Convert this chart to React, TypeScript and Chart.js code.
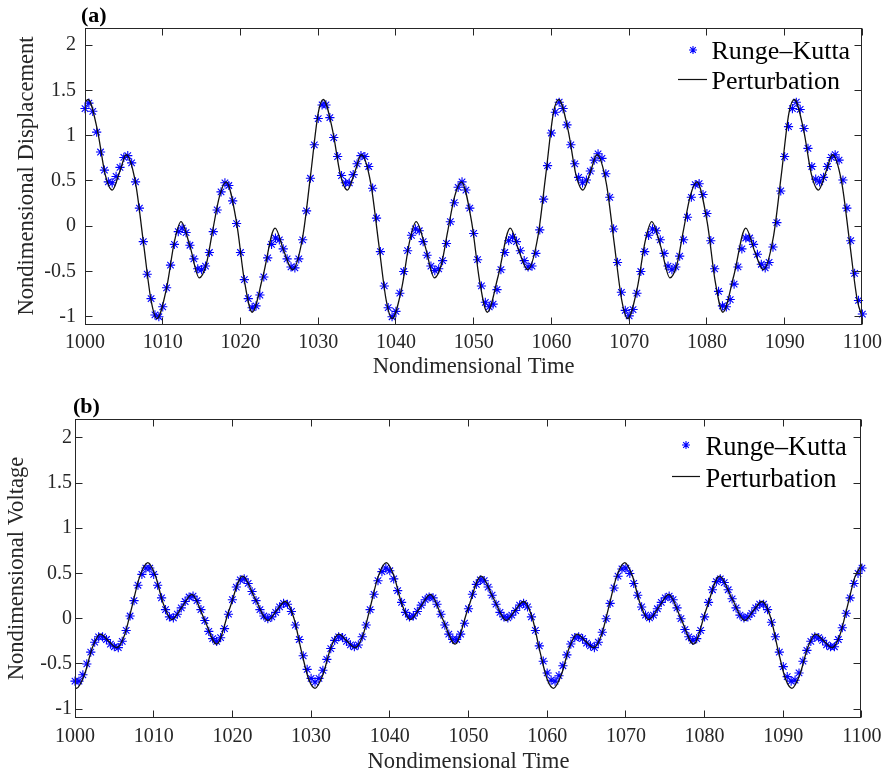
import React, { useEffect, useRef } from "react";
import { Chart, registerables } from "chart.js";

Chart.register(...registerables);

const FONT = '"Liberation Serif", "Times New Roman", serif';
const AXIS_COLOR = "#262626";
const RK_COLOR = "#0000ff";
const LINE_COLOR = "#111111";
const TICK_LEN = 7;

const SERIES_NAMES = ["Runge–Kutta", "Perturbation"];
const X_TITLE = "Nondimensional Time";
const X_TICKS = [1000, 1010, 1020, 1030, 1040, 1050, 1060, 1070, 1080, 1090, 1100];
const Y_TICKS = [-1, -0.5, 0, 0.5, 1, 1.5, 2];

// Runge–Kutta sample times
const TIME = [
  1000, 1000.5, 1001, 1001.5, 1002, 1002.5, 1003, 1003.5, 1004, 1004.5,
  1005, 1005.5, 1006, 1006.5, 1007, 1007.5, 1008, 1008.5, 1009, 1009.5,
  1010, 1010.5, 1011, 1011.5, 1012, 1012.5, 1013, 1013.5, 1014, 1014.5,
  1015, 1015.5, 1016, 1016.5, 1017, 1017.5, 1018, 1018.5, 1019, 1019.5,
  1020, 1020.5, 1021, 1021.5, 1022, 1022.5, 1023, 1023.5, 1024, 1024.5,
  1025, 1025.5, 1026, 1026.5, 1027, 1027.5, 1028, 1028.5, 1029, 1029.5,
  1030, 1030.5, 1031, 1031.5, 1032, 1032.5, 1033, 1033.5, 1034, 1034.5,
  1035, 1035.5, 1036, 1036.5, 1037, 1037.5, 1038, 1038.5, 1039, 1039.5,
  1040, 1040.5, 1041, 1041.5, 1042, 1042.5, 1043, 1043.5, 1044, 1044.5,
  1045, 1045.5, 1046, 1046.5, 1047, 1047.5, 1048, 1048.5, 1049, 1049.5,
  1050, 1050.5, 1051, 1051.5, 1052, 1052.5, 1053, 1053.5, 1054, 1054.5,
  1055, 1055.5, 1056, 1056.5, 1057, 1057.5, 1058, 1058.5, 1059, 1059.5,
  1060, 1060.5, 1061, 1061.5, 1062, 1062.5, 1063, 1063.5, 1064, 1064.5,
  1065, 1065.5, 1066, 1066.5, 1067, 1067.5, 1068, 1068.5, 1069, 1069.5,
  1070, 1070.5, 1071, 1071.5, 1072, 1072.5, 1073, 1073.5, 1074, 1074.5,
  1075, 1075.5, 1076, 1076.5, 1077, 1077.5, 1078, 1078.5, 1079, 1079.5,
  1080, 1080.5, 1081, 1081.5, 1082, 1082.5, 1083, 1083.5, 1084, 1084.5,
  1085, 1085.5, 1086, 1086.5, 1087, 1087.5, 1088, 1088.5, 1089, 1089.5,
  1090, 1090.5, 1091, 1091.5, 1092, 1092.5, 1093, 1093.5, 1094, 1094.5,
  1095, 1095.5, 1096, 1096.5, 1097, 1097.5, 1098, 1098.5, 1099, 1099.5,
  1100,
];

// (a) Runge–Kutta displacement
const DISP_RK = [
  1.30, 1.36, 1.27, 1.04, 0.82, 0.62, 0.49, 0.48, 0.55, 0.65,
  0.76, 0.78, 0.70, 0.49, 0.20, -0.17, -0.53, -0.80, -0.98, -1.00,
  -0.89, -0.68, -0.43, -0.20, -0.06, -0.02, -0.07, -0.21, -0.36, -0.47,
  -0.48, -0.44, -0.29, -0.06, 0.18, 0.38, 0.48, 0.45, 0.28, 0.03,
  -0.29, -0.59, -0.80, -0.90, -0.88, -0.76, -0.56, -0.35, -0.20, -0.13,
  -0.15, -0.25, -0.36, -0.45, -0.46, -0.36, -0.15, 0.17, 0.53, 0.90,
  1.19, 1.34, 1.34, 1.20, 0.98, 0.77, 0.56, 0.48, 0.48, 0.57,
  0.69, 0.78, 0.77, 0.66, 0.42, 0.09, -0.28, -0.66, -0.90, -1.00,
  -0.94, -0.74, -0.50, -0.27, -0.10, -0.03, -0.05, -0.17, -0.32, -0.44,
  -0.49, -0.47, -0.38, -0.19, 0.05, 0.26, 0.43, 0.49, 0.40, 0.20,
  -0.08, -0.37, -0.66, -0.84, -0.89, -0.86, -0.70, -0.48, -0.29, -0.16,
  -0.12, -0.17, -0.27, -0.38, -0.45, -0.44, -0.30, -0.04, 0.30, 0.67,
  1.03, 1.26, 1.37, 1.30, 1.12, 0.90, 0.69, 0.54, 0.48, 0.51,
  0.61, 0.73, 0.80, 0.75, 0.58, 0.32, -0.03, -0.40, -0.73, -0.93,
  -0.99, -0.92, -0.74, -0.50, -0.28, -0.10, -0.03, -0.05, -0.15, -0.30,
  -0.44, -0.48, -0.45, -0.33, -0.15, 0.10, 0.32, 0.46, 0.47, 0.35,
  0.14, -0.16, -0.47, -0.72, -0.88, -0.89, -0.81, -0.64, -0.45, -0.25,
  -0.13, -0.13, -0.20, -0.31, -0.42, -0.46, -0.40, -0.23, 0.04, 0.39,
  0.77, 1.10, 1.30, 1.37, 1.29, 1.08, 0.86, 0.66, 0.52, 0.49,
  0.54, 0.66, 0.76, 0.79, 0.73, 0.51, 0.20, -0.16, -0.52, -0.82,
  -0.97,
];

// (b) Runge–Kutta voltage
const VOLT_RK = [
  -0.69, -0.69, -0.62, -0.50, -0.37, -0.26, -0.20, -0.20, -0.23, -0.28,
  -0.31, -0.32, -0.25, -0.13, 0.03, 0.20, 0.37, 0.49, 0.56, 0.56,
  0.49, 0.37, 0.23, 0.10, 0.02, 0.01, 0.05, 0.12, 0.19, 0.24,
  0.25, 0.20, 0.10, -0.02, -0.14, -0.22, -0.25, -0.21, -0.11, 0.05,
  0.21, 0.35, 0.43, 0.44, 0.39, 0.30, 0.20, 0.10, 0.03, 0.00,
  0.02, 0.07, 0.13, 0.17, 0.16, 0.08, -0.07, -0.23, -0.41, -0.56,
  -0.66, -0.70, -0.66, -0.57, -0.45, -0.33, -0.24, -0.20, -0.21, -0.25,
  -0.29, -0.31, -0.29, -0.20, -0.07, 0.10, 0.27, 0.42, 0.52, 0.56,
  0.53, 0.44, 0.31, 0.18, 0.07, 0.02, 0.03, 0.08, 0.15, 0.21,
  0.24, 0.23, 0.16, 0.05, -0.07, -0.17, -0.23, -0.23, -0.17, -0.05,
  0.11, 0.27, 0.38, 0.43, 0.42, 0.35, 0.26, 0.16, 0.07, 0.02,
  0.01, 0.04, 0.09, 0.15, 0.17, 0.13, 0.02, -0.13, -0.30, -0.47,
  -0.60, -0.68, -0.69, -0.63, -0.52, -0.40, -0.28, -0.21, -0.20, -0.22,
  -0.27, -0.30, -0.32, -0.26, -0.15, 0.00, 0.17, 0.34, 0.47, 0.55,
  0.56, 0.50, 0.39, 0.26, 0.13, 0.04, 0.01, 0.04, 0.11, 0.18,
  0.23, 0.25, 0.21, 0.12, 0.00, -0.12, -0.20, -0.24, -0.22, -0.13,
  0.02, 0.18, 0.32, 0.41, 0.44, 0.40, 0.32, 0.22, 0.12, 0.04,
  0.01, 0.02, 0.06, 0.12, 0.16, 0.16, 0.10, -0.04, -0.20, -0.37,
  -0.53, -0.64, -0.69, -0.68, -0.60, -0.47, -0.35, -0.25, -0.20, -0.21,
  -0.24, -0.29, -0.31, -0.31, -0.23, -0.10, 0.06, 0.23, 0.39, 0.50,
  0.56,
];

// (a) Perturbation curve (times and values read at extrema / slopes)
const DISP_PT_T = [
  1000, 1000.4, 1001.6, 1002.6, 1003.5, 1004.5, 1005.3, 1006.5, 1007.5, 1008.5,
  1009.25, 1010.5, 1011.5, 1012.35, 1013.5, 1014.7, 1015.6, 1016.4, 1017.3, 1018.15,
  1019.5, 1020.5, 1021.5, 1022.9, 1024.45, 1025.6, 1026.7, 1028.0, 1029.0, 1030.0,
  1030.65, 1031.85, 1032.85, 1033.75, 1034.75, 1035.55, 1036.75, 1037.75, 1038.75, 1039.5,
  1040.75, 1041.75, 1042.6, 1043.75, 1044.95, 1045.85, 1046.65, 1047.55, 1048.4, 1049.75,
  1050.75, 1051.75, 1053.15, 1054.7, 1055.85, 1056.95, 1058.25, 1059.25, 1060.25, 1060.95,
  1062.15, 1063.15, 1064.05, 1065.05, 1065.85, 1067.05, 1068.05, 1069.05, 1069.8, 1071.05,
  1072.05, 1072.9, 1074.05, 1075.25, 1076.15, 1076.95, 1077.85, 1078.7, 1080.05, 1081.05,
  1082.05, 1083.45, 1085.0, 1086.15, 1087.25, 1088.55, 1089.55, 1090.55, 1091.25, 1092.45,
  1093.45, 1094.35, 1095.35, 1096.15, 1097.35, 1098.35, 1099.35, 1100,
];
const DISP_PT_V = [
  1.37, 1.40, 1.06, 0.57, 0.40, 0.61, 0.79, 0.48, -0.17, -0.82,
  -1.02, -0.68, -0.17, 0.05, -0.22, -0.57, -0.42, -0.06, 0.33, 0.49,
  0.04, -0.60, -0.95, -0.55, -0.02, -0.28, -0.48, -0.12, 0.55, 1.25,
  1.40, 1.06, 0.57, 0.40, 0.61, 0.79, 0.48, -0.17, -0.82, -1.02,
  -0.68, -0.17, 0.05, -0.22, -0.57, -0.42, -0.06, 0.33, 0.49, 0.04,
  -0.60, -0.95, -0.55, -0.02, -0.28, -0.48, -0.12, 0.55, 1.25, 1.40,
  1.06, 0.57, 0.40, 0.61, 0.79, 0.48, -0.17, -0.82, -1.02, -0.68,
  -0.17, 0.05, -0.22, -0.57, -0.42, -0.06, 0.33, 0.49, 0.04, -0.60,
  -0.95, -0.55, -0.02, -0.28, -0.48, -0.12, 0.55, 1.25, 1.40, 1.06,
  0.57, 0.40, 0.61, 0.79, 0.48, -0.17, -0.82, -1.00,
];

// (b) Perturbation curve
const VOLT_PT_T = [
  1000, 1000.2, 1001.2, 1002.2, 1003.2, 1004.3, 1005.3, 1006.3, 1007.2, 1008.2,
  1009.25, 1010.2, 1011.2, 1012.3, 1013.6, 1014.85, 1016.4, 1018.0, 1019.6, 1021.3,
  1022.9, 1024.5, 1025.6, 1026.7, 1027.8, 1028.8, 1029.7,
  1030.5, 1031.5, 1032.5, 1033.5, 1034.6, 1035.6, 1036.6, 1037.5, 1038.5,
  1039.55, 1040.5, 1041.5, 1042.6, 1043.9, 1045.15, 1046.7, 1048.3, 1049.9, 1051.6,
  1053.2, 1054.8, 1055.9, 1057.0, 1058.1, 1059.1, 1060.0,
  1060.8, 1061.8, 1062.8, 1063.8, 1064.9, 1065.9, 1066.9, 1067.8, 1068.8,
  1069.85, 1070.8, 1071.8, 1072.9, 1074.2, 1075.45, 1077.0, 1078.6, 1080.2, 1081.9,
  1083.5, 1085.1, 1086.2, 1087.3, 1088.4, 1089.4, 1090.3,
  1091.1, 1092.1, 1093.1, 1094.1, 1095.2, 1096.2, 1097.2, 1098.1, 1099.1, 1100,
];
const VOLT_PT_V = [
  -0.76, -0.77, -0.62, -0.32, -0.17, -0.25, -0.32, -0.18, 0.12, 0.46,
  0.62, 0.48, 0.17, -0.01, 0.13, 0.27, 0.00, -0.28, 0.10, 0.47,
  0.22, -0.02, 0.09, 0.19, 0.01, -0.37, -0.67,
  -0.77, -0.62, -0.32, -0.17, -0.25, -0.32, -0.18, 0.12, 0.46,
  0.62, 0.48, 0.17, -0.01, 0.13, 0.27, 0.00, -0.28, 0.10, 0.47,
  0.22, -0.02, 0.09, 0.19, 0.01, -0.37, -0.67,
  -0.77, -0.62, -0.32, -0.17, -0.25, -0.32, -0.18, 0.12, 0.46,
  0.62, 0.48, 0.17, -0.01, 0.13, 0.27, 0.00, -0.28, 0.10, 0.47,
  0.22, -0.02, 0.09, 0.19, 0.01, -0.37, -0.67,
  -0.77, -0.62, -0.32, -0.17, -0.25, -0.32, -0.18, 0.12, 0.46, 0.60,
];

type Panel = {
  tag: string;
  yTitle: string;
  rk: number[];
  ptT: number[];
  ptV: number[];
  yMin: number;
  yMax: number;
  padTop: number;
  padRight: number;
  yWidth: number;
  xHeight: number;
  yTickPad: number;
  yTitlePad: number;
  xTickPad: number;
  xTitlePad: number;
  tagX: number;
  tagY: number;
  legend: {
    starX: number; starY: number; lineX0: number; lineX1: number; lineY: number;
    textX: number; text1Y: number; text2Y: number; size: number;
  };
};

const PANELS: Panel[] = [
  {
    tag: "(a)", yTitle: "Nondimensional Displacement",
    rk: DISP_RK, ptT: DISP_PT_T, ptV: DISP_PT_V,
    yMin: -1.08, yMax: 2.19,
    padTop: 28, padRight: 24, yWidth: 85, xHeight: 65,
    yTickPad: 9, yTitlePad: 14, xTickPad: 7, xTitlePad: 8,
    tagX: 81, tagY: 21.5,
    legend: { starX: 693, starY: 50, lineX0: 678, lineX1: 707, lineY: 79.5, textX: 711.5, text1Y: 59, text2Y: 89, size: 26 },
  },
  {
    tag: "(b)", yTitle: "Nondimensional Voltage",
    rk: VOLT_RK, ptT: VOLT_PT_T, ptV: VOLT_PT_V,
    yMin: -1.09, yMax: 2.2,
    padTop: 30.7, padRight: 21.5, yWidth: 75, xHeight: 60.7,
    yTickPad: 3, yTitlePad: 4, xTickPad: 7.4, xTitlePad: 2,
    tagX: 73, tagY: 24.3,
    legend: { starX: 686, starY: 56, lineX0: 672, lineX1: 700, lineY: 87.5, textX: 705.5, text1Y: 66, text2Y: 97.5, size: 26.5 },
  },
];

function drawStar(ctx: CanvasRenderingContext2D, x: number, y: number, r: number) {
  const d = Math.cos(Math.PI / 4) * r;
  ctx.beginPath();
  ctx.moveTo(x, y - r); ctx.lineTo(x, y + r);
  ctx.moveTo(x - r, y); ctx.lineTo(x + r, y);
  ctx.moveTo(x - d, y - d); ctx.lineTo(x + d, y + d);
  ctx.moveTo(x - d, y + d); ctx.lineTo(x + d, y - d);
  ctx.stroke();
}

const matlabPlugin = {
  id: "matlab",
  afterDatasetsDraw(chart: any, _args: any, o: any) {
    const { ctx, chartArea: ca } = chart;
    const xs = chart.scales.x;
    const ys = chart.scales.y;
    const L = Math.floor(ca.left) + 0.5;
    const R = Math.floor(ca.right) - 0.5;
    const T = Math.floor(ca.top) + 0.5;
    const B = Math.floor(ca.bottom) + 0.5;
    ctx.save();
    ctx.strokeStyle = AXIS_COLOR;
    ctx.lineWidth = 1;
    ctx.strokeRect(L, T, R - L, B - T);
    ctx.beginPath();
    for (const v of X_TICKS) {
      const p = Math.floor(xs.getPixelForValue(v)) + 0.5;
      ctx.moveTo(p, B); ctx.lineTo(p, B - TICK_LEN);
      ctx.moveTo(p, T); ctx.lineTo(p, T + TICK_LEN);
    }
    for (const v of Y_TICKS) {
      const p = Math.floor(ys.getPixelForValue(v)) + 0.5;
      ctx.moveTo(L, p); ctx.lineTo(L + TICK_LEN, p);
      ctx.moveTo(R, p); ctx.lineTo(R - TICK_LEN, p);
    }
    ctx.stroke();

    ctx.fillStyle = "#000";
    ctx.textAlign = "left";
    ctx.textBaseline = "alphabetic";
    ctx.font = `bold 22px ${FONT}`;
    ctx.fillText(o.tag, o.tagX, o.tagY);

    const lg = o.legend;
    ctx.font = `${lg.size}px ${FONT}`;
    ctx.fillText(SERIES_NAMES[0], lg.textX, lg.text1Y);
    ctx.fillText(SERIES_NAMES[1], lg.textX, lg.text2Y);
    ctx.strokeStyle = RK_COLOR;
    ctx.lineWidth = 1.1;
    drawStar(ctx, lg.starX, lg.starY, 4);
    ctx.strokeStyle = LINE_COLOR;
    ctx.lineWidth = 1.2;
    ctx.beginPath();
    ctx.moveTo(lg.lineX0, lg.lineY);
    ctx.lineTo(lg.lineX1, lg.lineY);
    ctx.stroke();
    ctx.restore();
  },
};

function PanelChart({ p }: { p: Panel }) {
  const ref = useRef<HTMLCanvasElement>(null);
  useEffect(() => {
    if (!ref.current) return;
    const chart = new Chart(ref.current, {
      type: "scatter",
      data: {
        datasets: [
          {
            label: SERIES_NAMES[1],
            data: p.ptT.map((t, i) => ({ x: t, y: p.ptV[i] })),
            showLine: true,
            pointRadius: 0,
            borderColor: LINE_COLOR,
            borderWidth: 1.3,
            cubicInterpolationMode: "monotone",
            fill: false,
            order: 0,
          } as any,
          {
            label: SERIES_NAMES[0],
            data: TIME.map((t, i) => ({ x: t, y: p.rk[i] })),
            showLine: false,
            pointStyle: "star",
            pointRadius: 4.6,
            borderColor: RK_COLOR,
            backgroundColor: RK_COLOR,
            borderWidth: 1.1,
            pointBorderWidth: 1.1,
            clip: false,
            order: 1,
          } as any,
        ],
      },
      options: {
        responsive: false,
        animation: false,
        devicePixelRatio: 1,
        events: [],
        layout: { padding: { top: p.padTop, right: p.padRight, left: 0, bottom: 0 } },
        plugins: {
          legend: { display: false },
          tooltip: { enabled: false },
          matlab: { tag: p.tag, tagX: p.tagX, tagY: p.tagY, legend: p.legend },
        } as any,
        scales: {
          x: {
            type: "linear",
            min: 1000,
            max: 1100,
            afterBuildTicks: (s: any) => { s.ticks = X_TICKS.map((v) => ({ value: v })); },
            afterFit: (s: any) => { s.height = p.xHeight; },
            grid: { display: false, drawTicks: false },
            border: { display: false },
            ticks: {
              font: { family: FONT, size: 20 },
              color: AXIS_COLOR,
              padding: p.xTickPad,
              maxRotation: 0,
              autoSkip: false,
              callback: (v: any) => String(v),
            },
            title: {
              display: true,
              text: X_TITLE,
              font: { family: FONT, size: 22.6 },
              color: AXIS_COLOR,
              padding: { top: 0, bottom: p.xTitlePad },
            },
          },
          y: {
            type: "linear",
            min: p.yMin,
            max: p.yMax,
            afterBuildTicks: (s: any) => { s.ticks = Y_TICKS.map((v) => ({ value: v })); },
            afterFit: (s: any) => { s.width = p.yWidth; },
            grid: { display: false, drawTicks: false },
            border: { display: false },
            ticks: {
              font: { family: FONT, size: 20 },
              color: AXIS_COLOR,
              padding: p.yTickPad,
              autoSkip: false,
              callback: (v: any) => String(v),
            },
            title: {
              display: true,
              text: p.yTitle,
              font: { family: FONT, size: 22.6 },
              color: AXIS_COLOR,
              padding: { top: p.yTitlePad, bottom: 0 },
            },
          },
        } as any,
      },
      plugins: [matlabPlugin as any],
    });
    return () => chart.destroy();
  }, [p]);
  return <canvas ref={ref} width={889} height={389} style={{ display: "block", width: 889, height: 389 }} />;
}

export default function App() {
  return (
    <div style={{ position: "absolute", left: 0, top: 0, width: 889, height: 778, background: "#fff" }}>
      <PanelChart p={PANELS[0]} />
      <PanelChart p={PANELS[1]} />
    </div>
  );
}
